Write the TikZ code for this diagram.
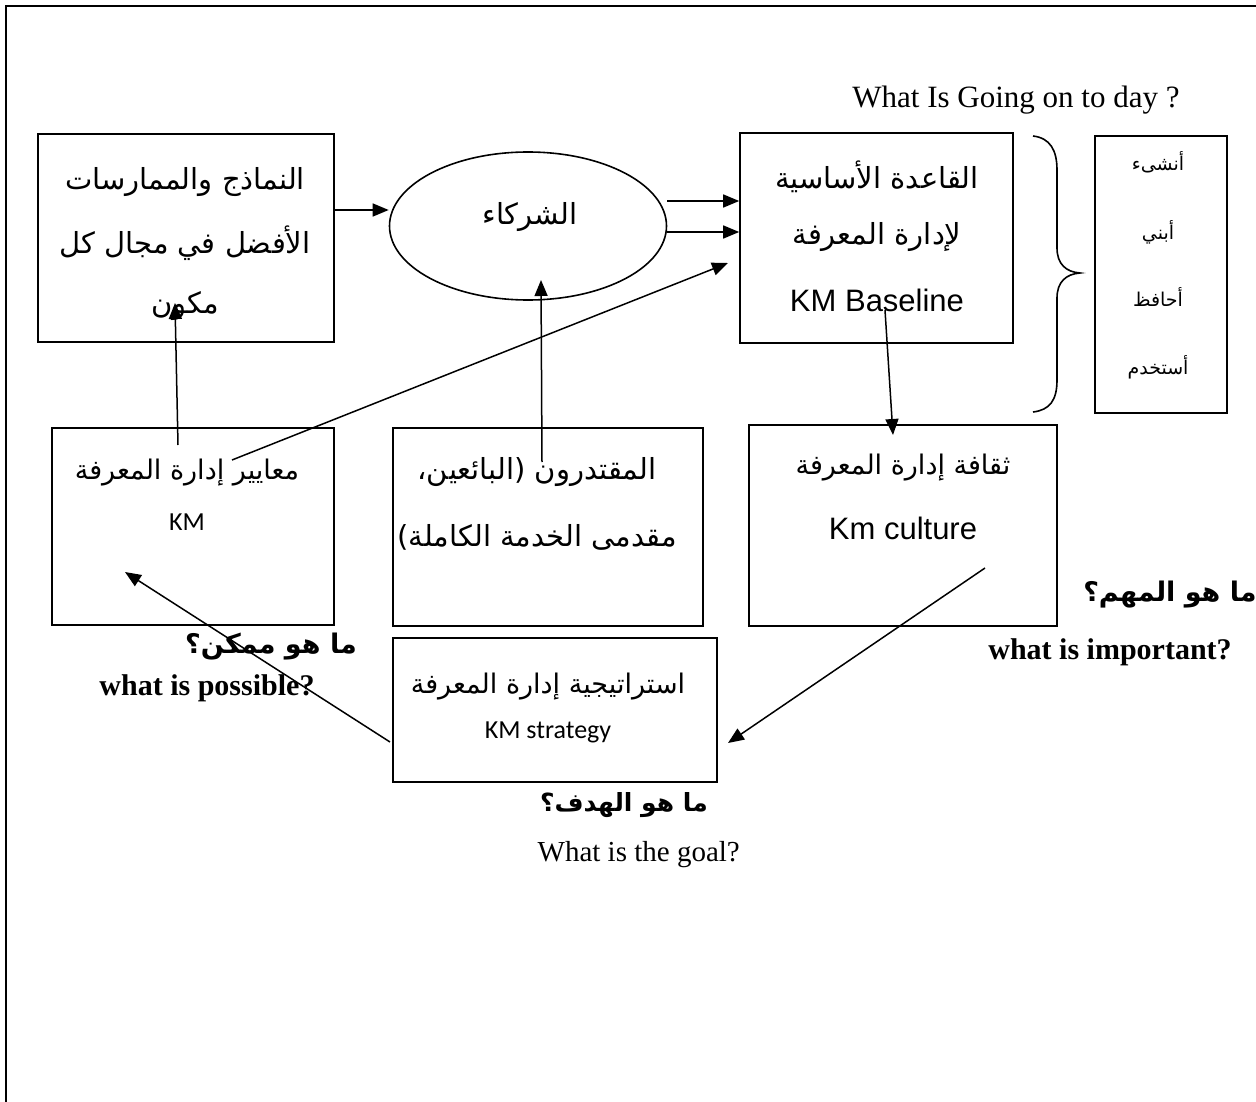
\documentclass[tikz,border=0pt]{standalone}
\usepackage{fontspec}
\setmainfont{Liberation Serif}
\newfontfamily\arabicfont[Script=Arabic]{DejaVu Sans}
\newfontfamily\arialfont{Liberation Sans}
\newfontfamily\calfont{Carlito}
\TeXXeTstate=1
\usetikzlibrary{shapes.geometric,arrows.meta}
\newcommand\artxt[1]{{\arabicfont\beginR #1\endR}}
\newcommand\fs[1]{\fontsize{#1}{#1}\selectfont}

\tikzset{
  box/.style={draw, line width=1.6pt, rectangle, inner sep=0pt},
  oval/.style={draw, line width=1.6pt, ellipse, inner sep=0pt},
  lbl/.style={inner sep=0pt, anchor=center},
  conn/.style={line width=1.5pt, -{Triangle[length=16pt,width=13pt]}},
  plain/.style={line width=1.6pt}
}

\begin{document}
\begin{tikzpicture}[x=1pt,y=-1pt]
\useasboundingbox (0,0) rectangle (1256,1102);

% page frame (top and left edges)
\draw[line width=2.4pt] (1256,6) -- (6,6) -- (6,1102);

% boxes
\node[box, minimum width=296, minimum height=208] (models) at (186,238) {};
\node[oval, minimum width=277, minimum height=148] (partners) at (528,226) {};
\node[box, minimum width=273, minimum height=210] (baseline) at (876.5,238) {};
\node[box, minimum width=132, minimum height=277] (verbs) at (1161,274.5) {};
\node[box, minimum width=282, minimum height=197] (criteria) at (193,526.5) {};
\node[box, minimum width=310, minimum height=198] (vendors) at (548,527) {};
\node[box, minimum width=308, minimum height=201] (culture) at (903,525.5) {};
\node[box, minimum width=324, minimum height=144] (strategy) at (555,710) {};

% box texts
\node[lbl] (m1) at (185,182) {\fs{29}\artxt{النماذج والممارسات}};
\node[lbl] (m2) at (185,243) {\fs{29}\artxt{الأفضل في مجال كل}};
\node[lbl] (m3) at (185,306) {\fs{29}\artxt{مكون}};

\node[lbl] (p1) at (530,217) {\fs{29}\artxt{الشركاء}};

\node[lbl] (k1) at (877,177) {\fs{29}\artxt{القاعدة الأساسية}};
\node[lbl] (k2) at (877,237) {\fs{29}\artxt{لإدارة المعرفة}};
\node[lbl] (k3) at (877,300) {\fs{31}\arialfont KM Baseline};

\node[lbl] (v1) at (1158,162) {\fs{19}\artxt{أنشىء}};
\node[lbl] (v2) at (1158,232) {\fs{19}\artxt{أبني}};
\node[lbl] (v3) at (1158,297) {\fs{19}\artxt{أحافظ}};
\node[lbl] (v4) at (1158,367) {\fs{19}\artxt{أستخدم}};

\node[lbl] (c1) at (187,473) {\fs{27}\artxt{معايير إدارة المعرفة}};
\node[lbl] (c2) at (187,522) {\fs{26}\calfont KM};

\node[lbl] (s1) at (537,472) {\fs{29}\artxt{المقتدرون (البائعين،}};
\node[lbl] (s2) at (537,537) {\fs{29}\artxt{مقدمى الخدمة الكاملة)}};

\node[lbl] (u1) at (903,468) {\fs{27}\artxt{ثقافة إدارة المعرفة}};
\node[lbl] (u2) at (903,528) {\fs{31}\arialfont Km culture};

\node[lbl] (t1) at (548,687) {\fs{27}\artxt{استراتيجية إدارة المعرفة}};
\node[lbl] (t2) at (548,732) {\fs{26}\calfont KM strategy};

% free-standing questions
\node[lbl] (today) at (1016,100) {\fs{31}What Is Going on to day ?};
\node[lbl] (possAr) at (271,647) {\fs{27}\bfseries\artxt{ما هو ممكن؟}};
\node[lbl] (possEn) at (207,688) {\fs{30}\bfseries what is possible?};
\node[lbl] (impAr) at (1170,595) {\fs{27}\bfseries\artxt{ما هو المهم؟}};
\node[lbl] (impEn) at (1110,652) {\fs{30}\bfseries what is important?};
\node[lbl, anchor=east] (goalAr) at (708,805) {\fs{25}\bfseries\artxt{ما هو الهدف؟}};
\node[lbl, anchor=east] (goalEn) at (740,855) {\fs{29}What is the goal?};

% connector end points
\coordinate (critTop) at (178,445);
\coordinate (modBot) at (175,303);
\coordinate (critMid) at (232,460);
\coordinate (baseIn) at (728,263);
\coordinate (vendMid) at (542,462);
\coordinate (partBot) at (541,280);
\coordinate (baseMid) at (885,310);
\coordinate (cultTop) at (893,435);
\coordinate (cultIn) at (985,568);
\coordinate (stratR) at (728,743);
\coordinate (stratL) at (390,742);
\coordinate (critIn) at (125,572);

% connectors
\draw[conn] (models.east |- 0,210) -- (partners.west |- 0,210);
\draw[conn] (partners.east |- 0,201) -- (baseline.west |- 0,201);
\draw[conn] (partners.east |- 0,232) -- (baseline.west |- 0,232);
\draw[conn] (critMid) -- (baseIn);
\draw[conn] (critTop) -- (modBot);
\draw[conn] (vendMid) -- (partBot);
\draw[conn] (baseMid) -- (cultTop);
\draw[conn] (cultIn) -- (stratR);
\draw[conn] (stratL) -- (critIn);

% curly brace grouping the baseline with the verbs
\draw[plain] (1033,136) .. controls (1050,138) and (1057,150) .. (1057,170)
  -- (1057,248) .. controls (1057,264) and (1066,272) .. (1080,273)
  .. controls (1066,274) and (1057,282) .. (1057,298)
  -- (1057,380) .. controls (1057,400) and (1050,410) .. (1033,412);
\end{tikzpicture}
\end{document}
